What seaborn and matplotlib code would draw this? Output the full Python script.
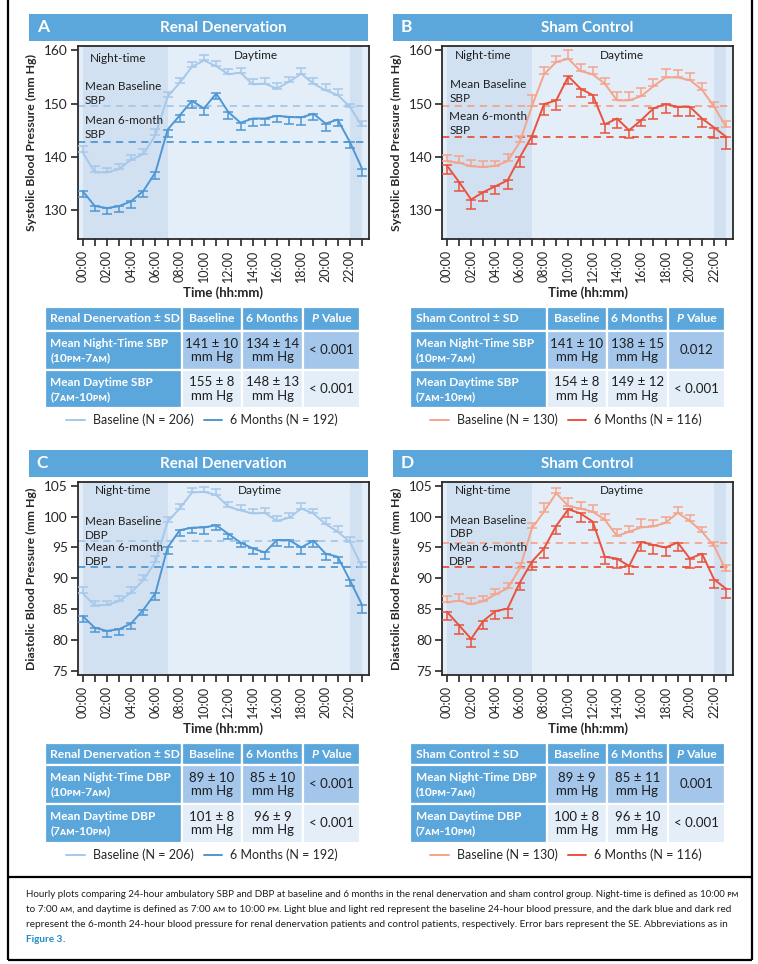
import numpy as np
import pandas as pd
import matplotlib
matplotlib.use("Agg")
import matplotlib.pyplot as plt
import seaborn as sns
from matplotlib.patches import Rectangle
from matplotlib.lines import Line2D

W, H = 758, 964

hours = list(range(24))
hour_labels = [f"{h:02d}:00" if h % 2 == 0 else "" for h in hours]

# A: systolic, renal denervation
sbp_rdn_base = [140.9, 137.1, 137.1, 137.7, 139.5, 140.5, 144.1, 151.3, 153.9, 156.9, 158.1, 157.0,
                155.5, 155.8, 153.6, 153.75, 152.8, 154.1, 155.6, 153.75, 152.5, 151.6, 149.4, 145.75]
sbp_rdn_base_se = [1.1, 1.1, 0.9, 0.9, 0.8, 0.9, 1.1, 0.9, 0.9, 0.9, 1.1, 1.0,
                   0.9, 0.9, 1.0, 1.0, 1.0, 0.9, 1.1, 1.0, 1.1, 1.1, 0.5, 1.0]
sbp_rdn_6m = [133.6, 130.8, 130.4, 130.75, 131.7, 133.6, 137.1, 145.1, 147.8, 150.5, 149.1, 151.9,
              148.4, 146.4, 147.2, 147.2, 147.7, 147.5, 147.4, 148.1, 146.25, 147.0, 142.8, 137.8]
sbp_rdn_6m_se = [1.1, 1.0, 1.1, 1.1, 1.25, 1.1, 1.25, 1.4, 1.25, 1.25, 1.25, 1.1,
                 1.25, 1.3, 1.4, 1.25, 1.1, 1.25, 1.5, 1.1, 1.4, 1.25, 1.1, 1.4]

# B: systolic, sham
sbp_sham_base = [139.2, 138.9, 138.25, 138.1, 138.3, 139.2, 142.8, 149.5, 155.5, 157.8, 158.4, 156.1,
                 155.5, 153.75, 150.6, 150.6, 151.4, 153.25, 154.9, 154.9, 154.4, 152.6, 149.4, 145.6]
sbp_sham_base_se = [1.1, 1.2, 1.1, 1.1, 0.9, 1.3, 1.2, 2.1, 1.4, 1.1, 1.6, 1.25,
                    1.4, 1.0, 1.6, 1.5, 1.5, 1.4, 1.5, 1.4, 1.4, 1.25, 0.9, 1.1]
sbp_sham_6m = [138.4, 135.3, 132.0, 133.4, 134.5, 135.6, 139.9, 143.9, 149.9, 150.6, 155.1, 152.8,
               151.6, 146.1, 147.2, 145.0, 146.9, 149.1, 149.9, 149.4, 149.4, 147.2, 145.5, 143.75]
sbp_sham_6m_se = [1.6, 1.75, 1.7, 1.6, 1.4, 1.7, 1.75, 1.5, 2.1, 1.75, 1.5, 1.6,
                  1.4, 1.7, 1.7, 1.4, 1.1, 1.9, 1.75, 1.7, 1.75, 1.6, 1.9, 2.2]

# C: diastolic, renal denervation
dbp_rdn_base = [87.6, 85.6, 85.7, 86.3, 87.7, 89.7, 92.7, 99.2, 101.3, 103.9, 104.0, 103.5,
                101.6, 101.0, 100.5, 100.6, 99.3, 99.8, 101.3, 100.5, 98.8, 97.55, 95.9, 91.9]
dbp_rdn_base_se = [1.0, 0.8, 0.7, 0.9, 0.9, 0.9, 0.9, 0.8, 0.8, 0.7, 0.8, 0.9,
                   0.8, 0.8, 0.75, 0.8, 0.75, 0.8, 0.9, 0.8, 0.9, 0.9, 0.8, 0.7]
dbp_rdn_6m = [83.9, 82.0, 81.5, 81.75, 82.7, 84.9, 87.6, 95.0, 97.8, 98.2, 98.25, 98.6,
              97.2, 95.8, 94.85, 94.2, 96.2, 96.2, 95.0, 96.1, 94.0, 93.5, 89.7, 85.7]
dbp_rdn_6m_se = [0.9, 0.75, 1.0, 0.9, 0.9, 0.9, 1.1, 1.0, 1.0, 0.9, 1.0, 0.8,
                 0.9, 0.75, 0.9, 1.1, 1.0, 1.2, 1.1, 1.1, 1.0, 1.0, 1.0, 1.25]

# D: diastolic, sham
dbp_sham_base = [86.1, 86.4, 85.8, 86.3, 87.4, 88.4, 91.6, 98.1, 100.8, 103.8, 101.7, 101.3,
                 100.8, 99.5, 96.85, 97.55, 98.25, 98.4, 99.0, 100.6, 99.3, 97.55, 95.2, 91.2]
dbp_sham_base_se = [1.1, 1.1, 1.0, 0.9, 0.9, 0.9, 0.9, 0.9, 1.35, 0.9, 1.35, 1.0,
                    1.0, 0.9, 1.1, 0.9, 1.3, 1.1, 1.0, 1.0, 0.9, 0.8, 0.7, 0.9]
dbp_sham_6m = [84.6, 82.4, 80.2, 83.1, 84.7, 85.1, 89.3, 92.7, 94.85, 98.5, 101.2, 100.5,
               99.2, 93.5, 93.2, 92.0, 95.9, 95.4, 95.0, 95.8, 93.2, 94.0, 89.8, 88.3]
dbp_sham_6m_se = [1.35, 1.45, 1.35, 1.35, 1.35, 1.45, 1.2, 1.35, 1.6, 1.35, 1.25, 1.35,
                  1.35, 1.25, 1.45, 1.3, 1.5, 1.45, 1.4, 1.35, 1.45, 1.35, 1.3, 1.55]

# mean reference lines (baseline, 6-month)
means_a = [149.6, 142.8]
means_b = [149.5, 143.75]
means_c = [96.1, 91.8]
means_d = [95.8, 91.8]

table_cols_rdn = ["Renal Denervation \u00b1 SD", "Baseline", "6 Months", "Value"]
table_cols_sham = ["Sham Control \u00b1 SD", "Baseline", "6 Months", "Value"]
periods = ["(10\u1d18\u1d0d-7\u1d00\u1d0d)", "(7\u1d00\u1d0d-10\u1d18\u1d0d)"]
cells_a = [["141 \u00b1 10\nmm Hg", "134 \u00b1 14\nmm Hg", "< 0.001"],
           ["155 \u00b1 8\nmm Hg", "148 \u00b1 13\nmm Hg", "< 0.001"]]
cells_b = [["141 \u00b1 10\nmm Hg", "138 \u00b1 15\nmm Hg", "0.012"],
           ["154 \u00b1 8\nmm Hg", "149 \u00b1 12\nmm Hg", "< 0.001"]]
cells_c = [["89 \u00b1 10\nmm Hg", "85 \u00b1 10\nmm Hg", "< 0.001"],
           ["101 \u00b1 8\nmm Hg", "96 \u00b1 9\nmm Hg", "< 0.001"]]
cells_d = [["89 \u00b1 9\nmm Hg", "85 \u00b1 11\nmm Hg", "0.001"],
           ["100 \u00b1 8\nmm Hg", "96 \u00b1 10\nmm Hg", "< 0.001"]]

caption_lines = [
    "Hourly plots comparing 24-hour ambulatory SBP and DBP at baseline and 6 months in the renal denervation and sham control group. Night-time is defined as 10:00 \u1d18\u1d0d",
    "to 7:00 \u1d00\u1d0d, and daytime is defined as 7:00 \u1d00\u1d0d to 10:00 \u1d18\u1d0d. Light blue and light red represent the baseline 24-hour blood pressure, and the dark blue and dark red",
    "represent the 6-month 24-hour blood pressure for renal denervation patients and control patients, respectively. Error bars represent the SE. Abbreviations as in",
]
caption_sizes = [7.0, 7.2, 7.2]

head_blue = "#5ba6da"
mid_blue = "#a3c6ea"
pale_blue = "#e3eef8"
night_blue = "#d2e1f2"
dark_txt = "#1e1e1e"
blues = ["#a6c8ea", "#4f97d4"]
reds = ["#f5a48c", "#e8533e"]

sns.set_style("ticks")
plt.rcParams["font.family"] = ["Lato", "DejaVu Sans"]

fig = plt.figure(figsize=(W / 100, H / 100), dpi=100)
bg = fig.add_axes([0, 0, 1, 1])
bg.set_xlim(0, W)
bg.set_ylim(H, 0)
bg.axis("off")


def frac(x0, y0, x1, y1):
    return [x0 / W, 1 - y1 / H, (x1 - x0) / W, (y1 - y0) / H]


def draw_panel(x0, y0, letter, title, base, base_se, six, six_se, means, colors,
               ylim, yticks, ylabel, kind, notes):
    # header bar
    bg.add_patch(Rectangle((x0 - 48.7, y0 - 32), 339, 27, color=head_blue, lw=0))
    bg.text(x0 - 41, y0 - 18.5, letter, color="white", fontsize=12.5, fontweight="bold", va="center")
    bg.text(x0 + 145.5, y0 - 18.5, title, color="white", fontsize=11, fontweight="bold",
            va="center", ha="center")

    ax = fig.add_axes(frac(x0, y0, x0 + 291, y0 + 193))
    ax.set_facecolor(pale_blue)
    ax.axvspan(0, 7, color=night_blue, lw=0, zorder=0)
    ax.axvspan(22, 23, color=night_blue, lw=0, zorder=0)

    df = pd.DataFrame({"hour": hours * 2, "bp": base + six,
                       "visit": ["Baseline"] * 24 + ["6 Months"] * 24})
    sns.lineplot(data=df, x="hour", y="bp", hue="visit", palette=dict(zip(["Baseline", "6 Months"], colors)),
                 ax=ax, legend=False, lw=1.4, zorder=3)
    zeros = np.zeros(24)
    ax.errorbar(hours, base, yerr=[zeros, base_se], fmt="none", ecolor=colors[0], elinewidth=1.1,
                capsize=3.5, capthick=1.1, zorder=3)
    ax.errorbar(hours, six, yerr=[six_se, zeros], fmt="none", ecolor=colors[1], elinewidth=1.1,
                capsize=3.5, capthick=1.1, zorder=3)
    for m, c in zip(means, colors):
        ax.axhline(m, color=c, ls=(0, (4, 3)), lw=1.3, zorder=2)

    ax.set_xlim(-0.4, 23.55)
    ax.set_ylim(*ylim)
    ax.set_yticks(yticks)
    ax.set_xticks(hours)
    ax.set_xticklabels(hour_labels, rotation=90, fontsize=9)
    ax.tick_params(axis="y", labelsize=9.8, length=5, width=1.2, pad=2)
    ax.tick_params(axis="x", length=5, width=1.2, pad=3)
    for s in ax.spines.values():
        s.set_visible(True)
        s.set_linewidth(1.3)
        s.set_color("#2a2a2a")
    ax.set_xlabel("Time (hh:mm)", fontsize=9.5, fontweight="bold", labelpad=3)
    ax.set_ylabel(ylabel, fontsize=8.8, fontweight="bold", labelpad=5)

    (nx, ny), (dx, dy), (bx, by), (sx, sy) = notes
    ax.text(nx, ny, "Night-time", fontsize=8.5, ha="center", va="center", color=dark_txt)
    ax.text(dx, dy, "Daytime", fontsize=8.5, ha="center", va="center", color=dark_txt)
    ax.text(bx, by, f"Mean Baseline\n{kind}", fontsize=8.5, ha="left", va="center",
            color=dark_txt, linespacing=1.3)
    ax.text(sx, sy, f"Mean 6-month\n{kind}", fontsize=8.5, ha="left", va="center",
            color=dark_txt, linespacing=1.3)
    return ax


def draw_table(xs, ys, cols, kind, cells):
    fills = [[head_blue] * 4, [head_blue] + [mid_blue] * 3, [head_blue] + [pale_blue] * 3]
    for r in range(3):
        for c in range(4):
            bg.add_patch(Rectangle((xs[c], ys[r]), xs[c + 1] - xs[c], ys[r + 1] - ys[r],
                                   facecolor=fills[r][c], edgecolor="white", lw=1.6))
    yc = (ys[0] + ys[1]) / 2
    bg.text(xs[0] + 5.5, yc, cols[0], color="white", fontsize=8.7, fontweight="bold", va="center")
    for c in (1, 2):
        bg.text((xs[c] + xs[c + 1]) / 2, yc, cols[c], color="white", fontsize=8.7,
                fontweight="bold", va="center", ha="center")
    pc = (xs[3] + xs[4]) / 2
    bg.text(pc - 13, yc, "P", color="white", fontsize=8.7, fontweight="bold", style="italic",
            va="center", ha="right")
    bg.text(pc - 10.5, yc, cols[3], color="white", fontsize=8.7, fontweight="bold", va="center", ha="left")
    labels = [f"Mean Night-Time {kind}", f"Mean Daytime {kind}"]
    for r in range(2):
        yc = (ys[r + 1] + ys[r + 2]) / 2
        bg.text(xs[0] + 5.5, yc - 7, labels[r], color="white", fontsize=8.6, fontweight="bold", va="center")
        bg.text(xs[0] + 5.5, yc + 7.5, periods[r], color="white", fontsize=8.6, fontweight="bold", va="center")
        for c in range(3):
            bg.text((xs[c + 1] + xs[c + 2]) / 2, yc, cells[r][c], color=dark_txt, fontsize=9.5,
                    ha="center", va="center", linespacing=1.15)


def draw_legend(cx, cy, colors, labels):
    handles = [Line2D([], [], color=c, lw=1.4) for c in colors]
    fig.legend(handles, labels, loc="center", bbox_to_anchor=(cx / W, 1 - cy / H), ncol=2,
               frameon=False, fontsize=9.0, handlelength=1.5, handletextpad=0.6, columnspacing=0.8)


sbp_ticks = [130, 140, 150, 160]
dbp_ticks = [75, 80, 85, 90, 95, 100, 105]

draw_panel(77.7, 46, "A", "Renal Denervation", sbp_rdn_base, sbp_rdn_base_se, sbp_rdn_6m, sbp_rdn_6m_se,
           means_a, blues, (124.6, 160.8), sbp_ticks, "Systolic Blood Pressure (mm Hg)", "SBP",
           [(2.9, 158.5), (14.3, 159.0), (0.2, 151.9), (0.2, 145.5)])
draw_panel(442, 46, "B", "Sham Control", sbp_sham_base, sbp_sham_base_se, sbp_sham_6m, sbp_sham_6m_se,
           means_b, reds, (124.6, 160.8), sbp_ticks, "Systolic Blood Pressure (mm Hg)", "SBP",
           [(3.0, 159.0), (14.4, 159.0), (0.25, 152.3), (0.2, 146.3)])
draw_panel(77.7, 482, "C", "Renal Denervation", dbp_rdn_base, dbp_rdn_base_se, dbp_rdn_6m, dbp_rdn_6m_se,
           means_c, blues, (74.35, 105.6), dbp_ticks, "Diastolic Blood Pressure (mm Hg)", "DBP",
           [(3.3, 104.2), (14.6, 104.2), (0.2, 98.1), (0.2, 93.85)])
draw_panel(442, 482, "D", "Sham Control", dbp_sham_base, dbp_sham_base_se, dbp_sham_6m, dbp_sham_6m_se,
           means_d, reds, (74.35, 105.6), dbp_ticks, "Diastolic Blood Pressure (mm Hg)", "DBP",
           [(3.0, 104.3), (14.4, 104.3), (0.25, 98.3), (0.2, 93.85)])

xs_left = [45, 181.7, 242.3, 302.7, 360]
xs_right = [410, 546.7, 607.3, 667.7, 725]
draw_table(xs_left, [307.3, 330.7, 370, 408.3], table_cols_rdn, "SBP", cells_a)
draw_table(xs_right, [307.3, 330.7, 370, 408.3], table_cols_sham, "SBP", cells_b)
draw_table(xs_left, [743.3, 764.7, 804, 842.7], table_cols_rdn, "DBP", cells_c)
draw_table(xs_right, [743.3, 764.7, 804, 842.7], table_cols_sham, "DBP", cells_d)

draw_legend(202, 420, blues, ["Baseline (N = 206)", "6 Months (N = 192)"])
draw_legend(566, 420, reds, ["Baseline (N = 130)", "6 Months (N = 116)"])
draw_legend(202, 855, blues, ["Baseline (N = 206)", "6 Months (N = 192)"])
draw_legend(566, 855, reds, ["Baseline (N = 130)", "6 Months (N = 116)"])

# outer frame and caption box
for seg in [((8.3, 8.3), (0, 960)), ((751.7, 751.7), (0, 960)),
            ((8.3, 751.7), (876.7, 876.7)), ((8.3, 751.7), (960, 960))]:
    bg.plot(seg[0], seg[1], color="black", lw=1.6, solid_capstyle="butt")

for i, (line, size) in enumerate(zip(caption_lines, caption_sizes)):
    bg.text(26, 894.7 + i * 15, line, fontsize=size, color=dark_txt, va="center")
fig_ref = bg.text(26, 894.7 + 3 * 15, "Figure 3", fontsize=7.2, color="#1f8ac8", va="center",
                  fontweight="bold")
bg.annotate(".", xy=(1, 0.5), xycoords=fig_ref, fontsize=7.2, color=dark_txt, va="center")

fig.savefig("out.png", dpi=100)
